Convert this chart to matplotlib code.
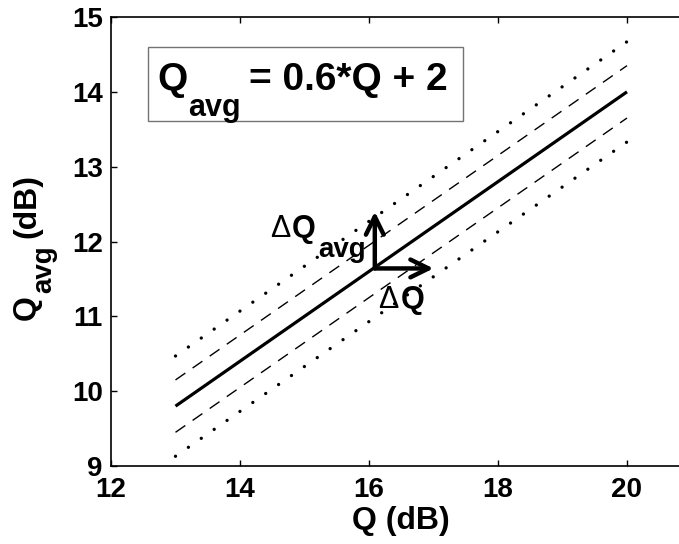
import matplotlib
matplotlib.use("Agg")
import matplotlib.pyplot as plt
from matplotlib.patches import Rectangle
from matplotlib.transforms import offset_copy

plt.rcParams['font.family'] = ['Liberation Sans', 'DejaVu Sans']
plt.rcParams['font.weight'] = 'bold'
plt.rcParams['axes.labelweight'] = 'bold'

# Line end points (Q in dB)
q = [13, 20]
q_avg = [9.8, 14.0]
dashed_hi = [10.15, 14.35]
dashed_lo = [9.45, 13.65]
dotted_hi = [10.47, 14.67]
dotted_lo = [9.13, 13.33]

# Delta arrows: origin and tips
arrow_origin = (16.09, 11.64)
arrow_q_tip = (17.0, 11.64)
arrow_qavg_tip = (16.09, 12.4)

x_ticks = [12, 14, 16, 18, 20]
y_ticks = [9, 10, 11, 12, 13, 14, 15]

fig = plt.figure(figsize=(6.79, 5.44), dpi=100)
ax = fig.add_axes([111 / 679, 78 / 544, 580.5 / 679, 449 / 544])
renderer = fig.canvas.get_renderer()


def compose(x, y, parts, transform, rotation=0):
    # parts: (text, size, weight, drop_px, gap_px) placed one after another
    shift = 0.0
    for s, size, weight, drop, gap in parts:
        shift += gap
        if rotation == 0:
            tr = offset_copy(transform, fig=fig, x=shift, y=-drop, units='dots')
        else:
            tr = offset_copy(transform, fig=fig, x=drop, y=shift, units='dots')
        t = ax.text(x, y, s, transform=tr, fontsize=size, fontweight=weight,
                    rotation=rotation, rotation_mode='anchor',
                    ha='left', va='baseline', clip_on=False)
        bb = t.get_window_extent(renderer)
        shift += bb.width if rotation == 0 else bb.height


ax.plot(q, q_avg, color='k', lw=2.3, solid_capstyle='butt')
for y in (dashed_hi, dashed_lo):
    ax.plot(q, y, color='k', lw=1.0, linestyle=(0, (8.6, 6.4)))
for y in (dotted_hi, dotted_lo):
    ax.plot(q, y, color='k', lw=2.4, linestyle=(0, (0.01, 4.7)),
            dash_capstyle='round')

# arrows
for tip in (arrow_q_tip, arrow_qavg_tip):
    ax.annotate('', xy=tip, xytext=arrow_origin,
                arrowprops=dict(arrowstyle='->,head_length=0.65,head_width=0.32',
                                lw=3.2, color='k', shrinkA=0, shrinkB=0,
                                mutation_scale=20))

compose(14.465, 12.06, [('\u0394', 22, 'normal', 0, 0),
                        ('Q', 22, 'bold', 0, 2),
                        ('avg', 20, 'bold', 20, 2)], ax.transData)
compose(16.14, 11.11, [('\u0394', 22, 'normal', 0, 0),
                       ('Q', 22, 'bold', 0, 2)], ax.transData)

# equation box
ax.add_patch(Rectangle((0.0637, 0.768), 0.5425, 0.165, transform=ax.transAxes,
                       fill=False, edgecolor='0.45', lw=1.0))
compose(0.0792, 0.8374, [('Q', 28, 'bold', 0, 0),
                         ('avg', 22, 'bold', 26, 1),
                         ('= 0.6*Q + 2', 28, 'bold', 0, 8)], ax.transAxes)

ax.set_xlim(12, 21)
ax.set_ylim(9, 15)
ax.set_xticks(x_ticks)
ax.set_yticks(y_ticks)
ax.tick_params(direction='in', length=4, width=1, top=True, labelsize=20)
ax.tick_params(axis='x', pad=8)
ax.tick_params(axis='y', pad=6)
for s in ax.spines.values():
    s.set_linewidth(1.2)

ax.set_xlabel('Q (dB)', fontsize=23)
ax.xaxis.set_label_coords(0.5, -0.09)
compose(-0.131, 0.325, [('Q', 23, 'bold', 0, 0),
                        ('avg', 20, 'bold', 16, 2),
                        ('(dB)', 23, 'bold', 0, 8)], ax.transAxes, rotation=90)

fig.savefig('out.png', dpi=100)
